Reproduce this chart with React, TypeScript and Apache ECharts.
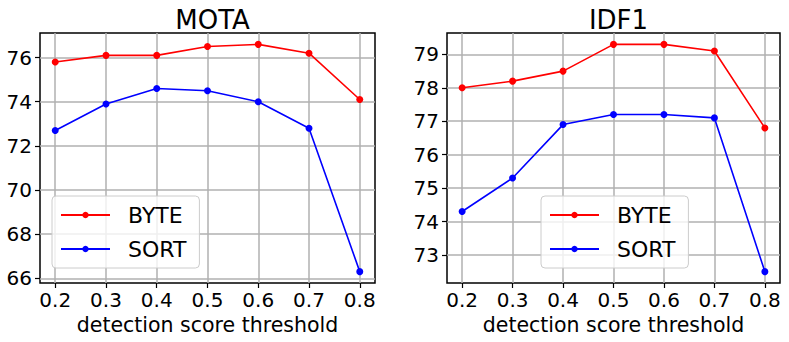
import React, { useEffect, useRef } from "react";
import * as echarts from "echarts";

const thresholds = [0.2, 0.3, 0.4, 0.5, 0.6, 0.7, 0.8];
const motaByte = [75.8, 76.1, 76.1, 76.5, 76.6, 76.2, 74.1];
const motaSort = [72.7, 73.9, 74.6, 74.5, 74.0, 72.8, 66.3];
const idf1Byte = [78.0, 78.2, 78.5, 79.3, 79.3, 79.1, 76.8];
const idf1Sort = [74.3, 75.3, 76.9, 77.2, 77.2, 77.1, 72.5];
const motaTicks = [66, 68, 70, 72, 74, 76];
const idf1Ticks = [73, 74, 75, 76, 77, 78, 79];

const FONT = "DejaVu Sans";

export default function App() {
  const ref = useRef<HTMLDivElement>(null);
  useEffect(() => {
    if (!ref.current) return;
    const chart = echarts.init(ref.current, null, { renderer: "svg" });
    const pair = (ys: number[]) => thresholds.map((x, i) => [x, ys[i]]);
    const grids = [
      { left: 40, top: 33, width: 335, height: 250 },
      { left: 447, top: 33, width: 333, height: 250 },
    ];
    const xAxis = grids.map((_, i) => ({
      type: "value",
      gridIndex: i,
      min: 0.17,
      max: 0.83,
      name: "detection score threshold",
      nameLocation: "middle",
      nameGap: 31,
      nameMoveOverlap: false,
      nameTextStyle: { fontFamily: FONT, fontSize: 20.5, color: "#000" },
      axisLine: { show: false },
      axisTick: {
        show: true,
        inside: false,
        length: 5,
        lineStyle: { color: "#000", width: 1.2 },
        customValues: thresholds,
      },
      axisLabel: {
        customValues: thresholds,
        formatter: (v: number) => v.toFixed(1),
        fontFamily: FONT,
        fontSize: 20,
        color: "#000",
        margin: 7,
      },
      splitLine: { show: true, lineStyle: { color: "#b0b0b0", width: 1.5 } },
    }));
    const yTicks = [motaTicks, idf1Ticks];
    const yRanges = [
      [65.785, 77.115],
      [72.16, 79.64],
    ];
    const yAxis = grids.map((_, i) => ({
      type: "value",
      gridIndex: i,
      min: yRanges[i][0],
      max: yRanges[i][1],
      axisLine: { show: false },
      axisTick: {
        show: true,
        length: 5,
        lineStyle: { color: "#000", width: 1.2 },
        customValues: yTicks[i],
      },
      axisLabel: {
        customValues: yTicks[i],
        formatter: (v: number) => String(Math.round(v)),
        fontFamily: FONT,
        fontSize: 20,
        color: "#000",
        margin: 8,
      },
      splitLine: { show: true, lineStyle: { color: "#b0b0b0", width: 1.5 } },
    }));
    const mk = (name: string, color: string, ys: number[], idx: number) => ({
      type: "line",
      name,
      xAxisIndex: idx,
      yAxisIndex: idx,
      data: pair(ys),
      symbol: "circle",
      symbolSize: 7,
      lineStyle: { color, width: 1.6 },
      itemStyle: { color },
      z: 5,
    });
    const legendBase = {
      orient: "vertical",
      top: 196,
      itemWidth: 49,
      itemHeight: 8,
      itemGap: 12,
      padding: [8, 13, 8, 8],
      backgroundColor: "rgba(255,255,255,0.8)",
      borderColor: "#cccccc",
      borderWidth: 1,
      borderRadius: 4,
      textStyle: { fontFamily: FONT, fontSize: 22, color: "#000", padding: [0, 0, 0, 13] },
      data: ["BYTE", "SORT"],
      selectedMode: false,
    };
    chart.setOption({
      animation: false,
      backgroundColor: "#fff",
      title: [
        {
          text: "MOTA",
          left: 207.5,
          textAlign: "center",
          top: 2,
          textStyle: { fontFamily: FONT, fontSize: 26, fontWeight: "normal", color: "#000" },
        },
        {
          text: "IDF1",
          left: 613.5,
          textAlign: "center",
          top: 2,
          textStyle: { fontFamily: FONT, fontSize: 26, fontWeight: "normal", color: "#000" },
        },
      ],
      grid: grids.map((g) => ({
        ...g,
        show: true,
        borderColor: "#000",
        borderWidth: 1.5,
        backgroundColor: "#fff",
        containLabel: false,
        outerBoundsMode: "none",
      })),
      xAxis,
      yAxis,
      legend: [
        { ...legendBase, left: 52 },
        { ...legendBase, left: 541 },
      ],
      series: [
        mk("BYTE", "#ff0000", motaByte, 0),
        mk("SORT", "#0000ff", motaSort, 0),
        mk("BYTE", "#ff0000", idf1Byte, 1),
        mk("SORT", "#0000ff", idf1Sort, 1),
      ],
    });
    return () => chart.dispose();
  }, []);
  return <div ref={ref} style={{ width: 789, height: 342, position: "absolute", left: 0, top: 0 }} />;
}
